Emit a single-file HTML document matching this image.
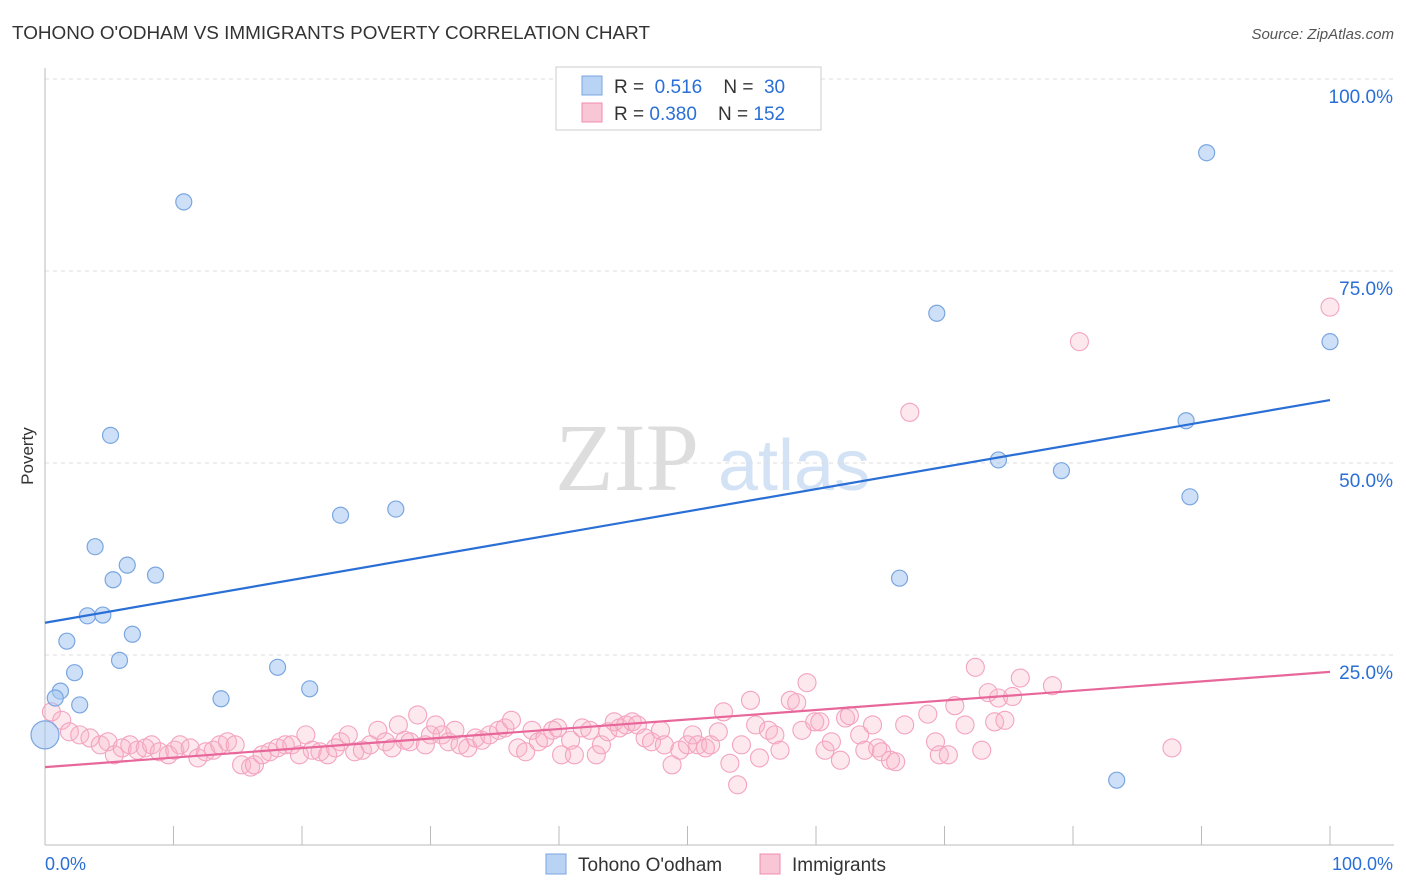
<!DOCTYPE html>
<html><head><meta charset="utf-8"><style>
body{margin:0;background:#fff;font-family:"Liberation Sans",sans-serif}
svg{display:block}
</style></head><body>
<svg id="chart" width="1406" height="892" xmlns="http://www.w3.org/2000/svg">
<text x="12" y="39" font-size="18" fill="#333" textLength="638" lengthAdjust="spacingAndGlyphs">TOHONO O'ODHAM VS IMMIGRANTS POVERTY CORRELATION CHART</text>
<text x="1394" y="39" font-size="15" fill="#555" text-anchor="end" font-style="italic">Source: ZipAtlas.com</text>
<text x="33" y="456" font-size="17" fill="#333" text-anchor="middle" transform="rotate(-90 33 456)">Poverty</text>
<g>
<text x="555" y="490" font-size="96" fill="#ddd" font-family="Liberation Serif,serif">ZIP</text>
<text x="718" y="490" font-size="72" fill="#d3e3f5">atlas</text>
</g>
<g id="grid"></g><g id="axes"></g><g id="points"></g><g id="lines"></g>
<g>
<rect x="556" y="67" width="265" height="63" fill="#fff" stroke="#ccc"/>
<rect x="582" y="76" width="20" height="19" fill="#b9d3f5" stroke="#7aa6e0"/>
<text x="614" y="93" font-size="19" fill="#333">R = <tspan fill="#2a6fd6">&#160;0.516</tspan>&#160;&#160;&#160;&#160;N = <tspan fill="#2a6fd6">&#160;30</tspan></text>
<rect x="582" y="103" width="20" height="19" fill="#f9c6d6" stroke="#f08cae"/>
<text x="614" y="120" font-size="19" fill="#333">R = <tspan fill="#2a6fd6">0.380</tspan>&#160;&#160;&#160;&#160;N = <tspan fill="#2a6fd6">152</tspan></text>
</g>
<g>
<rect x="546" y="854" width="20" height="20" fill="#b9d3f5" stroke="#7aa6e0"/>
<text x="578" y="871" font-size="19" fill="#333">Tohono O'odham</text>
<rect x="760" y="854" width="20" height="20" fill="#f9c6d6" stroke="#f08cae"/>
<text x="792" y="871" font-size="19" fill="#333">Immigrants</text>
</g>
</svg>
<script>
const blueX=[10.8,5.1,3.9,5.3,6.4,8.6,3.3,4.5,6.8,1.7,5.8,2.3,1.2,0.8,2.7,13.7,18.1,20.6,23.0,27.3,69.4,90.4,100,88.8,74.2,79.1,89.1,66.5,83.4,0];
const blueY=[84.0,53.6,39.1,34.8,36.7,35.4,30.1,30.2,27.7,26.8,24.3,22.7,20.3,19.4,18.5,19.3,23.4,20.6,43.2,44.0,69.5,90.4,65.8,55.5,50.4,49.0,45.6,35.0,8.7,14.6];
const pinkX=[0.5,1.3,1.9,2.7,3.5,4.3,4.9,5.4,6.0,6.6,7.2,7.8,8.3,8.9,9.6,10.1,10.5,11.3,11.9,12.5,13.1,13.6,14.2,14.8,15.3,16.0,16.3,16.9,17.5,18.1,18.7,19.2,19.8,20.3,20.8,21.4,22.0,22.6,23.0,23.6,24.1,24.7,25.3,25.9,26.5,27.0,27.5,28.0,28.4,29.0,29.6,30.0,30.4,30.9,31.4,31.9,32.3,32.9,33.5,34.0,34.6,35.3,35.8,36.3,36.8,37.4,37.9,38.4,38.9,39.5,39.9,40.2,40.9,41.2,41.8,42.4,42.9,43.3,43.8,44.3,44.7,45.2,45.7,46.1,46.7,47.2,47.9,48.2,48.8,49.4,50.0,50.4,50.8,51.4,51.8,52.4,52.8,53.3,53.9,54.2,54.9,55.3,55.6,56.3,56.8,57.2,58.0,58.5,58.9,59.3,59.9,60.3,60.7,61.2,61.9,62.3,62.6,63.4,63.8,64.4,64.8,65.1,65.8,66.2,66.9,67.3,68.7,69.3,69.6,70.3,70.8,71.6,72.4,72.9,73.4,73.9,74.2,74.7,75.3,75.9,78.4,80.5,87.7,100];
const pinkY=[17.6,16.5,15.0,14.6,14.2,13.3,13.7,12.0,12.9,13.3,12.6,12.9,13.3,12.4,12.0,12.6,13.3,12.9,11.6,12.4,12.6,13.3,13.7,13.3,10.7,10.4,10.7,12.0,12.4,12.9,13.3,13.3,12.0,14.6,12.6,12.4,12.0,12.9,13.7,14.6,12.4,12.6,13.3,15.2,13.7,12.9,15.9,13.9,13.7,17.2,13.3,14.6,15.9,14.6,13.7,15.2,13.3,12.9,14.2,13.9,14.6,15.2,15.5,16.5,12.9,12.4,15.2,13.7,14.2,15.2,15.5,12.0,13.9,12.0,15.5,15.2,12.0,13.3,15.0,16.3,15.5,15.9,16.3,15.9,14.2,13.7,15.2,13.3,10.7,12.6,13.3,14.6,13.3,12.9,13.3,15.0,17.6,10.9,8.1,13.3,19.1,15.9,11.6,15.2,14.6,12.6,19.1,18.8,15.2,21.4,16.3,16.3,12.6,13.7,11.3,16.8,17.1,14.6,12.6,15.9,12.9,12.4,11.3,11.1,15.9,56.6,17.3,13.7,12.0,12.0,18.4,15.9,23.4,12.6,20.1,16.3,19.4,16.5,19.6,22.0,21.0,65.8,12.9,70.3];
const blueLine=[29.2,58.2];
const pinkLine=[10.4,22.8];
const yTicks=[25,50,75,100];
const yTickLabels=["25.0%","50.0%","75.0%","100.0%"];
const ns="http://www.w3.org/2000/svg";
const X0=45,X1=1330,Y0=847,Y100=79;
const sx=v=>X0+(X1-X0)*v/100, sy=v=>Y0-(Y0-Y100)*v/100;
function mk(tag,attrs,parent){const e=document.createElementNS(ns,tag);for(const k in attrs)e.setAttribute(k,attrs[k]);document.getElementById(parent).appendChild(e);return e;}
yTicks.forEach((t,i)=>{
 const g=mk('line',{x1:45,x2:1394,y1:sy(t),y2:sy(t),stroke:'#ddd','stroke-dasharray':'4 4'},'grid');
 
 
 const l=mk('text',{x:1393,y:sy(t)+24,'font-size':19,fill:'#2a6fd6','text-anchor':'end'},'grid');
 l.textContent=yTickLabels[i];
 
 
});
const ax=mk('line',{x1:45,x2:1394,y1:845,y2:845,stroke:'#bbb'},'axes');


const ay=mk('line',{x1:45,x2:45,y1:68,y2:845,stroke:'#bbb'},'axes');


for(let i=0;i<=10;i++){const t=mk('line',{x1:sx(i*10),x2:sx(i*10),y1:826,y2:845,stroke:'#bbb'},'axes');
 
 }
const xl0=mk('text',{x:45,y:870,'font-size':18,fill:'#2a6fd6'},'axes');xl0.textContent='0.0%';


const xl1=mk('text',{x:1393,y:870,'font-size':18,fill:'#2a6fd6','text-anchor':'end'},'axes');xl1.textContent='100.0%';


pinkX.forEach((x,i)=>{const c=mk('circle',{cx:sx(x),cy:sy(pinkY[i]),r:9,fill:'rgba(248,180,200,0.3)',stroke:'#f3a3c0','stroke-width':1.1},'points');
 
 });
blueX.forEach((x,i)=>{const c=mk('circle',{cx:sx(x),cy:sy(blueY[i]),r:(i==blueX.length-1?14:8),fill:'rgba(165,198,240,0.55)',stroke:'#7aa6e0','stroke-width':1.2},'points');
 
 });
const bl=mk('line',{x1:sx(0),y1:sy(blueLine[0]),x2:sx(100),y2:sy(blueLine[1]),stroke:'#2a6fd6','stroke-width':2.2},'lines');


const pl=mk('line',{x1:sx(0),y1:sy(pinkLine[0]),x2:sx(100),y2:sy(pinkLine[1]),stroke:'#e8679a','stroke-width':2.2},'lines');


</script>
</body></html>
